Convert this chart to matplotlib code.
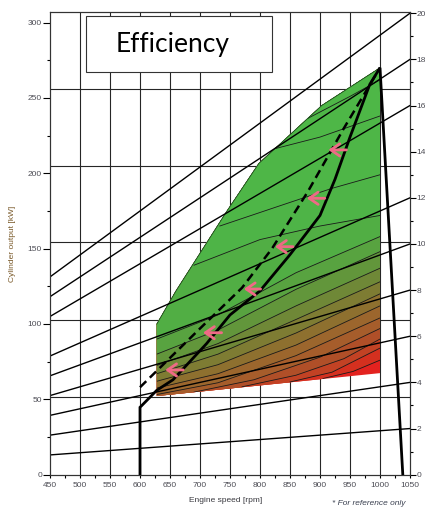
import matplotlib
matplotlib.use("Agg")
import matplotlib.pyplot as plt
import numpy as np
from matplotlib.patches import Polygon, Rectangle
from matplotlib.ticker import MultipleLocator

plt.rcParams['font.family'] = ['Liberation Sans', 'DejaVu Sans']

# axis ranges
rpm_lim = (450, 1050)
kw_top = 306.8
kw_per_unit = 15.31          # right-hand scale, kW per unit

# background grid
grid_rpm = [500, 550, 600, 650, 700, 750, 800, 850, 900, 950, 1000]
grid_kw = [51.8, 102.8, 154.2, 204.8, 255.7]

# straight load lines through the origin, value reached at 1050 rpm (right scale)
load_lines = [2, 4, 6, 8, 10, 12, 16, 18, 20]

# operating envelope (shaded area)
env_rpm = [628, 628, 660, 745, 798, 903, 1000, 1000]
env_kw = [52.2, 100, 122, 175, 206.5, 245, 270, 67.4]

# efficiency iso-lines, lowest first
eff_contours = [
    [(905, 63.8), (955, 68.5), (1000, 76)],
    [(850, 61.5), (920, 68), (1000, 84)],
    [(770, 58.3), (860, 66), (940, 77), (1000, 90)],
    [(690, 54.8), (790, 63), (900, 78), (1000, 97)],
    [(628, 53.2), (730, 61), (860, 79), (1000, 104)],
    [(628, 57.5), (730, 67), (860, 86), (1000, 112)],
    [(628, 62), (730, 73), (860, 94), (1000, 120)],
    [(628, 67), (730, 80), (860, 103), (1000, 128)],
    [(628, 72.5), (730, 87), (860, 112), (1000, 137)],
    [(628, 80), (730, 96), (860, 123), (1000, 148)],
    [(628, 90), (730, 106), (860, 134), (1000, 158)],
    [(690, 139), (800, 156), (900, 165), (1000, 172)],
    [(733, 165), (830, 178), (920, 190), (1000, 199)],
    [(812, 215), (900, 224), (1000, 238)],
    [(880, 236.5), (950, 251), (1000, 262)],
]
band_colors = ['#e3221f', '#d5301f', '#c24224', '#b04f28', '#a65d2b', '#9c662d',
               '#8e702f', '#7e7c33', '#6f8837', '#62963b', '#58a340', '#51ae44',
               '#4eb447', '#4eb647', '#4eb747', '#4eb747']

# engine limit curve and the right-hand overspeed limit
limit_rpm = [600, 600, 628, 655, 711, 750, 800, 850, 900, 925, 950, 983, 1000, 1038]
limit_kw = [0, 44.7, 56, 63, 87, 106, 122, 146, 172, 196, 224, 259, 270, 0]

# dashed curve
dash_rpm = [600, 700, 770, 820, 880, 940, 1000]
dash_kw = [58, 97, 124, 150, 188, 230, 270]

# pink arrows
arrow_tip_rpm = [914, 878, 825, 773, 705, 642]
arrow_tail_rpm = [944, 908, 855, 801, 736, 672]
arrow_kw = [215.5, 183.4, 151.3, 123.2, 94.2, 69.5]

fig = plt.figure(figsize=(4.25, 5.08), dpi=100)
ax = fig.add_axes([50 / 425, 1 - 474.7 / 508, 360 / 425, 462.4 / 508])
ax.set_xlim(*rpm_lim)
ax.set_ylim(0, kw_top)

for x in grid_rpm:
    ax.axvline(x, color='#262626', lw=0.8, zorder=1)
for y in grid_kw:
    ax.axhline(y, color='#262626', lw=0.8, zorder=1)

env_patch = Polygon(np.column_stack([env_rpm, env_kw]), closed=True,
                    facecolor=band_colors[0], edgecolor='none', zorder=2)
ax.add_patch(env_patch)


def bottom_edge(n):
    return np.interp(n, [env_rpm[0], env_rpm[-1]], [env_kw[0], env_kw[-1]])


for pts, col in zip(eff_contours, band_colors[1:]):
    n0, k0 = pts[0]
    if n0 > env_rpm[0] + 1 and k0 - bottom_edge(n0) < 2:
        head = [(600, 0), (n0, 0)]
    else:
        head = [(600, k0)]
    poly = head + pts + [(1010, pts[-1][1]), (1010, 330), (600, 330)]
    band = Polygon(poly, closed=True, facecolor=col, edgecolor='none', zorder=2)
    ax.add_patch(band)
    band.set_clip_path(env_patch)

for pts in eff_contours:
    xs, ys = zip(*pts)
    ln, = ax.plot(xs, ys, color='#1a1a1a', lw=0.6, zorder=3)
    ln.set_clip_path(env_patch)

ax.plot(env_rpm[1:7], env_kw[1:7], color='#1f4a1f', lw=0.6, zorder=3)

for v in load_lines:
    ax.plot([0, 1050], [0, v * kw_per_unit], color='black', lw=1.0, zorder=4)

ax.plot(dash_rpm, dash_kw, color='black', lw=1.8, ls=(0, (3.5, 2)), zorder=5)
ax.plot(limit_rpm, limit_kw, color='black', lw=2.0, zorder=5,
        solid_joinstyle='miter')

for tip, tail, y in zip(arrow_tip_rpm, arrow_tail_rpm, arrow_kw):
    ax.annotate('', xy=(tip, y), xytext=(tail, y), zorder=6,
                arrowprops=dict(arrowstyle='->,head_length=0.8,head_width=0.55',
                                color='#ef6a86', lw=2, mutation_scale=8,
                                shrinkA=0, shrinkB=0))

ax.add_patch(Rectangle((510, 267.2), 310, 37.4, facecolor='white',
                       edgecolor='#333333', lw=0.8, zorder=7))
ax.text(654.5, 280.7, 'Efficiency', family=['Lato', 'DejaVu Sans'], fontsize=19,
        ha='center', va='baseline', color='black', zorder=8)

tick_col = '#4d4d55'
ax.xaxis.set_major_locator(MultipleLocator(50))
ax.xaxis.set_minor_locator(MultipleLocator(25))
ax.yaxis.set_major_locator(MultipleLocator(50))
ax.yaxis.set_minor_locator(MultipleLocator(25))
ax.tick_params(axis='y', which='major', length=5, width=0.8, pad=0.8,
               labelsize=6, labelcolor=tick_col)
ax.tick_params(axis='y', which='minor', length=2.4, width=0.8)
ax.tick_params(axis='x', which='both', length=2.5, width=0.8, pad=3,
               labelsize=6, labelcolor=tick_col)

ax2 = ax.twinx()
ax2.set_ylim(0, kw_top / kw_per_unit)
ax2.yaxis.set_major_locator(MultipleLocator(2))
ax2.yaxis.set_minor_locator(MultipleLocator(1))
ax2.tick_params(axis='y', which='major', length=4, width=0.8, pad=0.8,
                labelsize=6, labelcolor=tick_col)
ax2.tick_params(axis='y', which='minor', length=2, width=0.8)

for a in (ax, ax2):
    for s in a.spines.values():
        s.set_linewidth(0.8)
        s.set_color('#333333')

fig.text(13 / 425, 1 - 243.5 / 508, 'Cylinder output [kW]', rotation=90,
         fontsize=6, color='#7a5a2a', ha='center', va='center')
fig.text(226 / 425, 1 - 501 / 508, 'Engine speed [rpm]', fontsize=6,
         color='#3a3a40', ha='center', va='center')
fig.text(369 / 425, 1 - 503.5 / 508, '* For reference only', fontsize=6,
         style='italic', color='#3a4050', ha='center', va='center')

fig.savefig('out.png', dpi=100)
